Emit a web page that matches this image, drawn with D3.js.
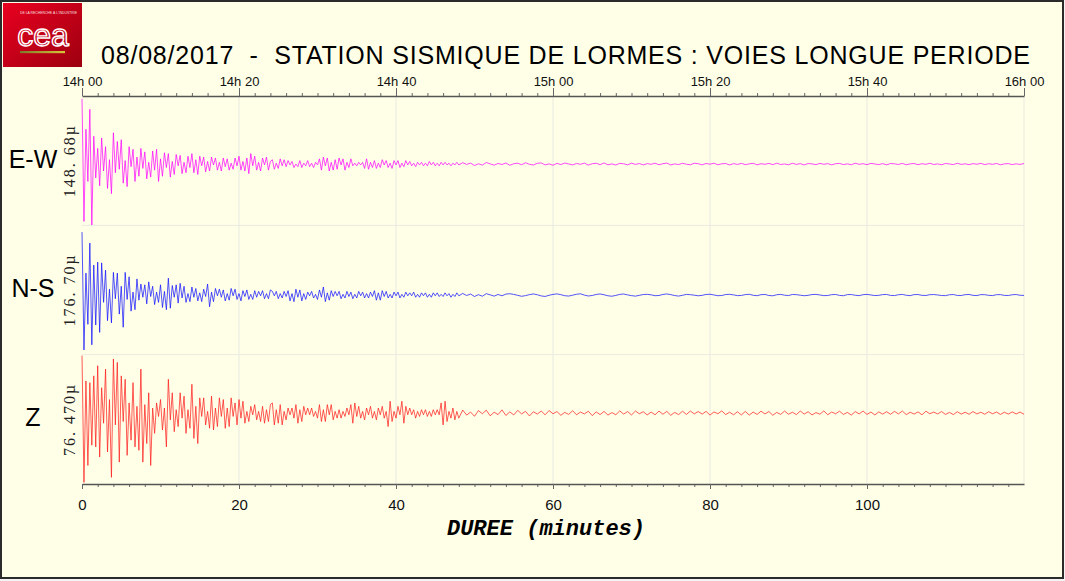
<!DOCTYPE html>
<meta charset="utf-8">
<style>
body { margin: 0; background: #f3f3f3; }
svg { display: block; }
.axis path.domain { stroke: #555; stroke-width: 1.5; }
.axis .tick line { stroke: #666; }
.axis text { font-family: "Liberation Sans", Arial, sans-serif; fill: #111; }
.minor .tick text { display: none; }
.minor path.domain { display: none; }
.grid { stroke: #e9e9e2; stroke-width: 1; }
.trace { fill: none; stroke-width: 0.8; stroke-linejoin: round; stroke-opacity: 0.9; }
</style>
<svg width="1065" height="581"></svg>

<script src="https://d3js.org/d3.v7.min.js"></script>
<script>
// channels, full scale amplitude (micro) and its printed label
var channels = ["E-W", "N-S", "Z"];
var fullScale = [148.68, 176.70, 76.470];
var scaleLabels = ["148. 68\u00b5", "176. 70\u00b5", "76. 470\u00b5"];
// mean level of each trace relative to its band (micro)
var traceMid = [3.9, 6.9, -3.7];
var traceColors = ["#ff00ff", "#1010ff", "#ff1a1a"];

var topTicks = [0, 20, 40, 60, 80, 100, 120];
var topTickLabels = ["14h 00", "14h 20", "14h 40", "15h 00", "15h 20", "15h 40", "16h 00"];
var bottomTicks = [0, 20, 40, 60, 80, 100];

// samples: early part every 0.25 min from 0 to 48, late part every 0.5 min from 48.5 to 120
var earlyStep = 0.25, lateStart = 48.5, lateStep = 0.5;

var ewEarly = [75,-66,40,-20,63,-70,32,-16,18,-25,
  30,-8,20,-28,5,-34,36,-10,26,-6,
  28,-22,4,-26,20,-3,17,-20,8,-14,
  18,-5,14,-17,2,-15,15,-7,17,-20,
  6,-14,13,-4,12,-15,3,-12,11,-2,
  10,-11,2,-10,9,-4,12,-10,5,-12,
  9,-2,8,-9,3,-8,8,-1,7,-7,
  2,-8,7,-3,6,-7,1,-6,7,-2,
  9,-7,3,-8,7,-11,12,-2,9,-7,
  2,-8,7,-1,8,-7,3,
  5,-6,1,-5,6,-2,5,-3,
  4,-1,3,-4,0,-3,4,-4,1,-2,4,-3,1,-4,2,-1,
  6,-7,8,-2,7,-8,2,-7,5,-6,7,-1,6,-7,2,-4,6,
  -2,1,-2,2,-1,2,
  -5,6,-6,2,-4,
  4,-5,1,-4,5,-1,4,-4,1,-5,4,-1,4,-4,1,-3,4,-1,
  3,-2,1,-3,2,-1,2,-2,1,-2,3,-1,2,-2,1,-2,2,-1,
  2,-1,1,-2,1,-1,2,-1];
var ewLate = [1.6,-0.4,1.1,-1.7,0.3,-1.2,1.8,0.2,-1.3,0.7,-0.5,1.2,
  -1.4,0.4,1.0,-0.8,1.5,-0.3,-1.1,0.9,1.3,-1.0,0.2,-1.4,
  0.8,-0.6,1.2,0.1,-1.0,0.7,-0.3,1.1,-1.2,0.4,0.9,-0.7,
  1.3,-0.9,0.2,-1.1,0.8,0.3,-0.9,1.0,-0.4,0.6,-1.0,0.5,
  -0.3,1.0,-0.8,0.4,1.1,-1.0,0.2,-0.6,0.9,-0.2,-0.8,1.0,
  0.4,-0.9,0.7,-0.2,1.0,-0.8,0.3,0.6,-1.0,0.5,-0.4,0.8,
  -0.7,0.2,0.9,-0.9,0.4,-0.3,0.8,-0.7,1.0,-0.5,0.1,-0.8,
  0.9,-0.4,0.5,-1.0,0.6,0.2,-0.7,0.8,-0.3,0.5,-0.9,0.4,
  0.7,-0.6,0.2,-0.8,1.0,-0.3,0.4,-0.7,0.8,0.1,-0.6,0.5,
  -0.9,0.6,0.3,-0.5,0.8,-0.8,0.2,0.6,-0.7,0.4,-0.3,0.9,
  -0.5,0.2,-0.8,0.7,0.1,-0.6,0.9,-0.4,0.3,-0.7,0.5,-0.2,
  0.8,-0.6,0.4,-0.3,0.7,-0.8,0.2,0.5,-0.6,0.3,-0.4,0.6];

var nsEarly = [86,-75,30,-40,71,-68,41,-41,45,-51,
  44,-10,34,-35,8,-38,31,-5,30,-26,
  12,-44,31,-6,25,-22,4,-20,22,-7,
  15,-3,14,-12,18,-2,12,-13,4,-10,
  14,-17,5,-20,23,-18,13,-3,14,-11,
  16,-4,12,-10,2,-9,11,-3,9,-8,
  3,-9,8,-2,15,-16,4,-9,9,-1,
  8,-3,7,-8,2,-7,9,-1,8,-6,
  2,-8,6,-2,7,-6,1,-6,6,-3,
  5,-1,6,-5,2,-5,7,
  5,-1,5,-5,2,-4,5,-2,
  6,-8,2,-9,8,-3,7,-8,
  2,-6,4,-1,5,-4,1,-6,
  7,-3,11,-9,3,-7,6,-2,
  5,-1,5,-5,1,-4,5,-2,4,
  -5,1,-4,5,-1,4,
  -4,2,-4,4,-2,
  6,-7,3,-7,6,-2,5,-4,1,-4,
  4,-1,4,-4,1,-3,4,-1,
  3,-1,4,-3,1,-3,3,-1,3,-3,1,-3,3,-1,3,-2,1,-2,
  3,-1,2,-3,1,-2,3,-1];
var nsLate = [2.2,-0.6,1.4,-2.0,0.5,-1.6,1.9,0.3,-1.5,0.8,-1.0,1.3,
  1.8,0.9,-0.4,-1.7,-0.8,0.6,1.5,0.4,-1.2,-1.9,-0.3,0.9,
  1.6,0.5,-0.9,-1.4,-0.2,1.1,1.7,-0.1,-1.3,-0.6,0.8,1.5,
  0.4,-1.0,-1.6,-0.5,0.9,1.4,0.2,-0.8,-1.5,-0.4,0.7,1.0,
  0.3,-0.9,-0.6,0.8,1.5,0.6,-0.7,-1.4,-0.3,0.9,0.5,-0.2,
  -1.0,-0.4,0.8,1.1,0.1,-0.9,-0.6,0.7,1.0,0.2,-0.8,-0.5,
  0.6,1.0,-0.3,-0.9,0.5,0.8,-0.6,-1.0,0.4,0.9,-0.2,-0.7,
  0.8,0.5,-0.2,-0.9,-0.4,0.7,0.9,0.1,-0.8,-0.6,0.5,0.8,
  -0.5,-0.9,0.6,0.7,-0.3,-0.8,0.5,0.9,0.1,-0.7,-0.4,0.6,
  0.8,-0.5,-0.7,0.4,0.9,-0.3,-0.8,0.6,0.7,-0.4,-0.6,0.5,
  0.7,0.1,-0.6,-0.8,0.4,0.7,-0.5,-0.6,0.5,0.8,-0.4,-0.7,
  0.6,0.5,-0.4,-0.7,0.5,0.6,-0.5,-0.6,0.4,0.7,-0.3,-0.5];

var zEarly = [34,-41,19,-31,18,-19,22,-20,28,-26,
  15,-6,26,-23,8,-38,32,-7,30,-29,
  22,-5,20,-25,6,-16,18,-20,4,-22,
  26,-29,5,-18,12,-31,3,-12,6,-2,
  8,-10,3,-20,20,-4,12,-11,2,-8,
  12,-3,10,-12,2,-9,17,-15,4,-18,
  9,-2,9,-7,1,-9,10,-10,3,-8,
  9,-2,8,-9,3,-8,9,-2,6,-7,
  8,-3,7,-6,1,-5,4,-1,5,-4,
  1,-5,4,-6,2,-5,5,
  6,-7,2,-6,5,-7,1,-4,
  3,-1,3,-3,
  5,-6,2,-5,4,-1,
  3,-1,3,-2,1,-3,
  5,-5,2,-5,5,-1,5,-4,
  1,-3,2,-3,1,-2,3,-1,5,
  -6,6,-2,4,
  -3,1,-4,3,-1,4,-3,1,-4,3,-1,4,-3,1,
  -8,7,-5,
  1,-3,4,-1,
  7,-6,4,-1,
  3,-1,2,-3,1,-2,2,-1,2,
  -2,1,-2,2,-1,2,-1,
  6,-7,7,-5,
  1,-3,3,-4,1,-3];
var zLate = [1.8,-1.2,0.6,-1.9,1.5,-0.4,1.7,-1.6,0.5,-0.9,1.9,-1.4,
  0.7,-1.1,1.6,-0.5,1.0,-1.7,0.8,-0.6,1.2,-1.0,1.5,-0.4,
  0.9,-1.3,0.4,-0.8,1.4,-1.0,0.6,-0.5,1.1,-1.5,0.7,-0.9,
  1.0,-1.2,0.3,-1.0,1.3,-0.6,0.9,-1.1,1.2,-0.4,0.8,-1.1,
  0.6,-1.0,1.2,-0.7,1.0,-1.3,0.4,-0.9,1.1,-0.8,1.2,-0.5,
  0.9,-0.6,1.0,-1.2,0.7,-0.4,1.3,-0.9,0.5,-1.0,0.8,-1.1,
  1.0,-1.2,0.6,-0.8,1.1,-0.5,0.9,-1.3,0.4,-0.8,1.2,-0.7,
  0.5,-0.9,1.2,-0.6,0.8,-1.1,0.3,-0.7,1.3,-1.0,0.6,-0.4,
  1.1,-0.8,0.4,-1.2,0.9,-0.5,1.2,-0.8,0.6,-1.1,0.7,-0.6,
  0.8,-0.7,1.0,-0.5,1.2,-0.9,0.5,-0.6,0.7,-1.0,1.1,-0.4,
  0.6,-0.5,0.9,-0.8,0.4,-0.9,0.8,-0.6,0.5,-0.7,0.9,-0.5,
  0.5,-0.7,0.8,-0.4,0.6,-0.8,0.5,-0.6,0.7,-0.5,0.6,-0.7];

var series = [[ewEarly, ewLate], [nsEarly, nsLate], [zEarly, zLate]];

var svg = d3.select("svg");

// frame and background
svg.append("rect").attr("x", 1).attr("y", 1).attr("width", 1062).attr("height", 577)
  .attr("fill", "#ffffe8").attr("stroke", "#2b2b2b").attr("stroke-width", 2);

// CEA logo
var defs = svg.append("defs");
var red = defs.append("linearGradient").attr("id", "ceaRed")
  .attr("x1", 0).attr("y1", 0).attr("x2", 1).attr("y2", 1);
red.append("stop").attr("offset", "0%").attr("stop-color", "#ea0020");
red.append("stop").attr("offset", "100%").attr("stop-color", "#9c000f");
var gold = defs.append("linearGradient").attr("id", "ceaGold");
gold.append("stop").attr("offset", "0%").attr("stop-color", "#7d7a2a");
gold.append("stop").attr("offset", "100%").attr("stop-color", "#d8c63a");

var logo = svg.append("g");
logo.append("rect").attr("x", 3).attr("y", 3).attr("width", 79).attr("height", 64).attr("fill", "url(#ceaRed)");
logo.append("text").attr("x", 20).attr("y", 14)
  .style("font", "3.4px 'Liberation Sans', sans-serif").attr("fill", "#fff").attr("opacity", 0.85)
  .text("DE LA RECHERCHE \u00c0 L'INDUSTRIE");
logo.append("text").attr("x", 43).attr("y", 46).attr("text-anchor", "middle")
  .style("font", "32px 'Liberation Sans', sans-serif").attr("letter-spacing", 0)
  .attr("fill", "none").attr("stroke", "#fff").attr("stroke-width", 1.4)
  .text("cea");
logo.append("rect").attr("x", 20).attr("y", 51).attr("width", 45).attr("height", 2.2).attr("fill", "url(#ceaGold)");

// title
svg.append("text").attr("x", 101).attr("y", 64)
  .attr("textLength", 929).attr("lengthAdjust", "spacing")
  .style("font", "25px 'Liberation Sans', Arial, sans-serif").style("white-space", "pre").attr("fill", "#000")
  .text("08/08/2017  -  STATION SISMIQUE DE LORMES : VOIES LONGUE PERIODE");

// scales
var x = d3.scaleLinear().domain([0, 120]).range([82, 1024]);
var band = d3.scaleBand().domain(channels).range([96, 484]);
var plotTop = 96, plotBottom = 484;

// grid
svg.append("g").selectAll("line").data(topTicks.slice(1)).join("line")
  .attr("class", "grid")
  .attr("x1", function(d) { return x(d); }).attr("x2", function(d) { return x(d); })
  .attr("y1", plotTop).attr("y2", plotBottom);
svg.append("g").selectAll("line").data(channels.slice(1)).join("line")
  .attr("class", "grid")
  .attr("x1", x(0)).attr("x2", x(120))
  .attr("y1", function(d) { return band(d); }).attr("y2", function(d) { return band(d); });

// traces
channels.forEach(function(c, k) {
  var y = d3.scaleLinear()
    .domain([traceMid[k] - fullScale[k] / 2, traceMid[k] + fullScale[k] / 2])
    .range([band(c) + band.bandwidth(), band(c)]);
  var pts = [];
  series[k][0].forEach(function(v, i) { pts.push({t: i * earlyStep, v: v}); });
  series[k][1].forEach(function(v, i) { pts.push({t: lateStart + i * lateStep, v: v}); });
  var line = d3.line().x(function(d) { return x(d.t); }).y(function(d) { return y(d.v); });
  svg.append("path").datum(pts).attr("class", "trace")
    .attr("stroke", traceColors[k]).attr("d", line);

  var mid = band(c) + band.bandwidth() / 2;
  svg.append("text").attr("x", 33).attr("y", mid + 7).attr("text-anchor", "middle")
    .style("font", "25px 'Liberation Sans', Arial, sans-serif").attr("fill", "#000")
    .text(c);
  svg.append("text").attr("transform", "translate(69," + mid + ") rotate(-90)")
    .attr("text-anchor", "middle").attr("dominant-baseline", "central")
    .attr("letter-spacing", 2)
    .style("font", "16px 'Liberation Serif', 'Times New Roman', serif").attr("fill", "#222")
    .text(scaleLabels[k]);
});

// axes
var minorTicks = d3.range(2, 120, 2).filter(function(v) { return v % 20 !== 0; });

svg.append("g").attr("class", "axis minor").attr("transform", "translate(0," + plotTop + ")")
  .call(d3.axisTop(x).tickValues(minorTicks).tickSize(3).tickSizeOuter(0));
var topAxis = svg.append("g").attr("class", "axis").attr("transform", "translate(0," + plotTop + ")")
  .call(d3.axisTop(x).tickValues(topTicks).tickSize(8).tickSizeOuter(0).tickPadding(2)
    .tickFormat(function(d, i) { return topTickLabels[i]; }));
topAxis.selectAll("text").style("font-size", "13px");

svg.append("g").attr("class", "axis minor").attr("transform", "translate(0," + plotBottom + ")")
  .call(d3.axisBottom(x).tickValues(minorTicks).tickSize(3).tickSizeOuter(0));
var bottomAxis = svg.append("g").attr("class", "axis").attr("transform", "translate(0," + plotBottom + ")")
  .call(d3.axisBottom(x).tickValues(bottomTicks).tickSize(5).tickSizeOuter(0).tickPadding(10));
bottomAxis.selectAll("text").style("font-size", "15px");

svg.append("text").attr("x", 546).attr("y", 535).attr("text-anchor", "middle")
  .style("font", "italic bold 22px 'Liberation Mono', 'Courier New', monospace").style("white-space", "pre")
  .attr("fill", "#000")
  .text("DUREE (minutes)");
</script>
